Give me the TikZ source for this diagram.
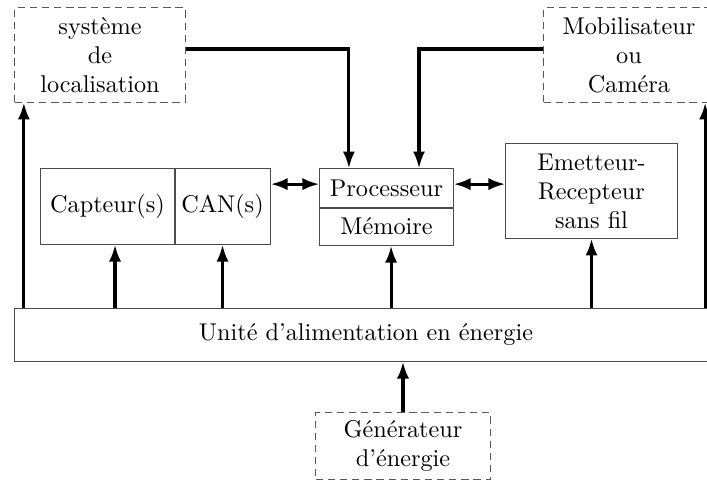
\documentclass[tikz,border=0pt]{standalone}
\usepackage{fontspec}
\usetikzlibrary{arrows.meta}
\usetikzlibrary{positioning}
\tikzstyle{blk} = [draw=black!70, align=center, inner sep=2pt]
\tikzstyle{ext} = [draw=black!65, dash pattern=on 3pt off 2pt, align=center, minimum height=38.8pt]
\tikzstyle{arrow} = [line width=1.3pt,-{Latex[length=7pt,width=5pt]}]
\tikzstyle{darrow} = [line width=1.3pt,{Latex[length=7pt,width=5pt]}-{Latex[length=7pt,width=5pt]}]

\begin{document}
\begin{tikzpicture}[x=0.0145cm, y=-0.0145cm]

    \useasboundingbox (0,0) rectangle (707,485);
    \clip (0,0) rectangle (707,485); % the right side is cut off

    % outside blocks
    \node[ext, minimum width=70.2pt] (loc) at (100,55) {système\\de\\localisation};
    \node[ext, minimum width=70.2pt] (mob) at (629,55) {Mobilisateur\\ou\\Caméra};
    \node[ext, minimum width=71.9pt, minimum height=27.3pt] (gen) at (403,446) {Générateur\\d’énergie};

    % sensor node
    \node[blk, minimum width=54.9pt, minimum height=31pt] (cap) at (107.5,206.5) {Capteur(s)};
    \node[blk, minimum width=39.2pt, minimum height=31pt, right=0pt of cap] (can) {CAN(s)};
    \node[blk, minimum width=54.9pt, minimum height=15.7pt] (proc) at (386.5,188) {Processeur};
    \node[blk, minimum width=54.9pt, minimum height=15.3pt, below=0pt of proc] (mem) {Mémoire};
    \node[blk, minimum width=70.6pt, minimum height=38.8pt] (emt) at (591.5,191) {Emetteur-\\Recepteur\\sans fil};
    \node[blk, minimum width=290pt, minimum height=21.5pt] (pw) at (366,335) {Unité d'alimentation en énergie};

    % links
    \draw[arrow] ([yshift=2.5pt]loc.east) -| ([xshift=-15.5pt]proc.north);
    \draw[arrow] ([yshift=2.5pt]mob.west) -| ([xshift=13.4pt]proc.north);
    \draw[darrow] ([yshift=1.6pt]can.east |- proc.west) -- ([yshift=1.6pt]proc.west);
    \draw[darrow] ([yshift=1.6pt]proc.east) -- ([yshift=1.6pt]emt.west |- proc.east);

    % power supply
    \draw[arrow] ([xshift=-31.4pt]loc.south |- pw.north) -- ([xshift=-31.4pt]loc.south);
    \draw[arrow] ([xshift=31.4pt]mob.south |- pw.north) -- ([xshift=31.4pt]mob.south);
    \draw[arrow] ([xshift=3.1pt]cap.south |- pw.north) -- ([xshift=3.1pt]cap.south);
    \draw[arrow] (can.south |- pw.north) -- (can.south);
    \draw[arrow] ([xshift=1.9pt]mem.south |- pw.north) -- ([xshift=1.9pt]mem.south);
    \draw[arrow] (emt.south |- pw.north) -- (emt.south);
    \draw[arrow] (gen.north) -- (gen.north |- pw.south);

\end{tikzpicture}
\end{document}
